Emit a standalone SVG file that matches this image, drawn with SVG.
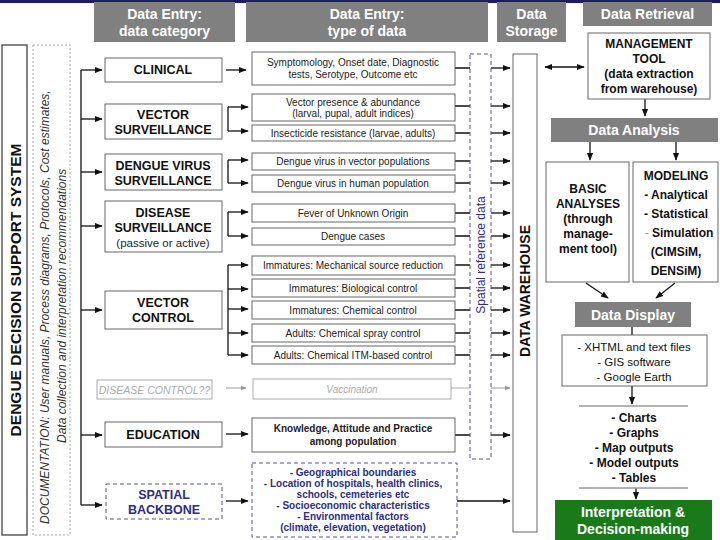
<svg xmlns="http://www.w3.org/2000/svg" width="720" height="540" viewBox="0 0 720 540">
<defs>
<marker id="ah" viewBox="0 0 10 10" refX="9" refY="5" markerWidth="6" markerHeight="6" orient="auto-start-reverse"><path d="M0,1 L10,5 L0,9 z" fill="#111"/></marker>
<marker id="ahg" viewBox="0 0 10 10" refX="9" refY="5" markerWidth="6" markerHeight="6" orient="auto"><path d="M0,1 L10,5 L0,9 z" fill="#999"/></marker>
</defs>
<style>
text{font-family:"Liberation Sans",Arial,sans-serif}
.hdr{fill:#808080}
.ht{fill:#fff;font-weight:bold;font-size:14px;text-anchor:middle}
.box{fill:#fff;stroke:#666;stroke-width:1}
.cat{font-weight:bold;font-size:12.5px;text-anchor:middle;fill:#111}
.typ{font-size:10px;text-anchor:middle;fill:#222}
.rb{font-weight:bold;font-size:12px;text-anchor:middle;fill:#111}
.ln{stroke:#111;stroke-width:1.3;fill:none}
.arr{stroke:#111;stroke-width:1.3;fill:none;marker-end:url(#ah)}
.garr{stroke:#999;stroke-width:1;fill:none;marker-end:url(#ahg)}
.blue{fill:#2e2e7a}
.dash{fill:#fff;stroke:#55558a;stroke-width:1;stroke-dasharray:4,3}
</style>
<rect x="0" y="0" width="720" height="540" fill="#fff"/>
<rect x="0" y="0" width="720" height="3" fill="#1c1c66"/>

<g id="headers">
<rect class="hdr" x="94" y="2" width="141" height="40"/>
<text class="ht" x="164.500" y="19">Data Entry:</text>
<text class="ht" x="164.500" y="36">data category</text>
<rect class="hdr" x="246" y="2" width="242" height="40"/>
<text class="ht" x="367" y="19">Data Entry:</text>
<text class="ht" x="367" y="36">type of data</text>
<rect class="hdr" x="497" y="2" width="69" height="40"/>
<text class="ht" x="531.500" y="19">Data</text>
<text class="ht" x="531.500" y="36">Storage</text>
<rect class="hdr" x="583" y="2" width="129" height="24"/>
<text class="ht" x="647.500" y="19">Data Retrieval</text>
</g>

<g id="dss">
<rect x="2" y="45" width="25" height="490" fill="#fff" stroke="#333" stroke-width="1.2"/>
<text transform="translate(21,290) rotate(-90)" font-weight="bold" font-size="15.500" text-anchor="middle" fill="#111">DENGUE DECISION SUPPORT SYSTEM</text>
</g>
<g id="documentation">
<rect x="33" y="45" width="37" height="490" fill="#fff" stroke="#aaa" stroke-width="1" stroke-dasharray="2,2"/>
<text transform="translate(49,524) rotate(-90)" font-style="italic" font-size="12" fill="#333">DOCUMENTATION:  User manuals, Process diagrams, Protocols, Cost estimates,</text>
<text transform="translate(66,443) rotate(-90)" font-style="italic" font-size="12" fill="#333">Data collection and interpretation recommendations</text>
</g>

<g id="connectors">
<path class="ln" d="M81,70 V505"/>
<path class="arr" d="M81,70 H102"/>
<path class="arr" d="M81,119 H102"/>
<path class="arr" d="M81,172 H102"/>
<path class="arr" d="M81,226 H102"/>
<path class="arr" d="M81,310 H102"/>
<path class="arr" d="M81,435 H102"/>
<path class="arr" d="M81,505 H102"/>

<path class="arr" d="M226,70 H246"/>
<path class="ln" d="M228,107 V131"/>
<path class="arr" d="M228,107 H248"/>
<path class="arr" d="M228,131 H248"/>
<path class="ln" d="M228,160 V183"/>
<path class="arr" d="M228,160 H248"/>
<path class="arr" d="M228,183 H248"/>
<path class="ln" d="M228,212 V236"/>
<path class="arr" d="M228,212 H248"/>
<path class="arr" d="M228,236 H248"/>
<path class="ln" d="M228,265 V355"/>
<path class="arr" d="M228,265 H248"/>
<path class="arr" d="M228,289 H248"/>
<path class="arr" d="M228,309 H248"/>
<path class="arr" d="M228,333 H248"/>
<path class="arr" d="M228,355 H248"/>
<path class="garr" d="M226,388 H246"/>
<path class="arr" d="M226,434 H248"/>
<path class="arr" d="M226,501 H248"/>

<path class="ln" d="M455,68 H470 M455,106 H470 M455,133 H470 M455,161 H470 M455,183 H470 M455,213 H470 M455,236 H470 M455,265 H470 M455,288 H470 M455,310 H470 M455,333 H470 M455,355 H470 M455,435 H470"/>
<path d="M451,388 H470" stroke="#aaa" stroke-width="1"/>
<path class="arr" d="M491,68 H510"/>
<path class="arr" d="M491,106 H510"/>
<path class="arr" d="M491,133 H510"/>
<path class="arr" d="M491,161 H510"/>
<path class="arr" d="M491,183 H510"/>
<path class="arr" d="M491,213 H510"/>
<path class="arr" d="M491,236 H510"/>
<path class="arr" d="M491,265 H510"/>
<path class="arr" d="M491,288 H510"/>
<path class="arr" d="M491,310 H510"/>
<path class="arr" d="M491,333 H510"/>
<path class="arr" d="M491,355 H510"/>
<path class="garr" d="M491,388 H510"/>
<path class="arr" d="M491,435 H510"/>
<path class="arr" d="M457,501 H510"/>

<path class="arr" d="M545,67 H584" marker-start="url(#ah)"/>
<path class="arr" d="M645,99 V116"/>
<path class="arr" d="M590,142 V160"/>
<path class="arr" d="M676,142 V160"/>
<path class="arr" d="M586,283 L608,298"/>
<path class="arr" d="M675,283 L656,298"/>
<path class="ln" d="M632,327 V335"/>
<path class="arr" d="M632,386 V404"/>
<path class="arr" d="M636,488 V499"/>
</g>

<g id="cat-clinical"><rect class="box" x="105" y="58" width="117" height="24"/><text class="cat" x="163" y="74">CLINICAL</text></g>
<g id="cat-vector-surv"><rect class="box" x="105" y="104" width="117" height="35"/><text class="cat" x="163" y="119">VECTOR</text><text class="cat" x="163" y="134">SURVEILLANCE</text></g>
<g id="cat-dengue-virus"><rect class="box" x="105" y="154" width="117" height="36"/><text class="cat" x="163" y="170">DENGUE VIRUS</text><text class="cat" x="163" y="185">SURVEILLANCE</text></g>
<g id="cat-disease-surv"><rect class="box" x="105" y="201" width="117" height="51"/><text class="cat" x="163" y="217">DISEASE</text><text class="cat" x="163" y="232">SURVEILLANCE</text><text x="163" y="247" font-size="11.500" text-anchor="middle" fill="#222">(passive or active)</text></g>
<g id="cat-vector-control"><rect class="box" x="105" y="291" width="117" height="38"/><text class="cat" x="163" y="307">VECTOR</text><text class="cat" x="163" y="322">CONTROL</text></g>
<g id="cat-disease-control"><rect x="97" y="380" width="115" height="19" fill="#fff" stroke="#aaa"/><text x="154.500" y="394" font-size="10.500" font-style="italic" text-anchor="middle" fill="#aaa">DISEASE CONTROL??</text></g>
<g id="cat-education"><rect class="box" x="105" y="422" width="117" height="25"/><text class="cat" x="163" y="439">EDUCATION</text></g>
<g id="cat-spatial"><rect class="dash" x="106" y="484" width="116" height="35"/><text class="cat blue" x="164" y="499">SPATIAL</text><text class="cat blue" x="164" y="514">BACKBONE</text></g>

<g id="t-symptom"><rect class="box" x="252" y="52" width="203" height="33"/><text class="typ" x="353" y="66">Symptomology, Onset date, Diagnostic</text><text class="typ" x="353" y="78">tests, Serotype, Outcome etc</text></g>
<g id="t-vecpres"><rect class="box" x="252" y="94" width="203" height="27"/><text class="typ" x="353" y="106">Vector presence &amp; abundance</text><text class="typ" x="353" y="117" font-size="9">(larval, pupal, adult indices)</text></g>
<g id="t-insect"><rect class="box" x="252" y="125" width="203" height="16"/><text class="typ" x="353" y="137">Insecticide resistance (larvae, adults)</text></g>
<g id="t-dvvec"><rect class="box" x="252" y="153" width="203" height="17"/><text class="typ" x="353" y="165">Dengue virus in vector populations</text></g>
<g id="t-dvhum"><rect class="box" x="252" y="175" width="203" height="17"/><text class="typ" x="353" y="187">Dengue virus in human population</text></g>
<g id="t-fuo"><rect class="box" x="252" y="204" width="203" height="18"/><text class="typ" x="353" y="217">Fever of Unknown Origin</text></g>
<g id="t-cases"><rect class="box" x="252" y="228" width="203" height="17"/><text class="typ" x="353" y="240">Dengue cases</text></g>
<g id="t-mech"><rect class="box" x="252" y="256" width="203" height="19"/><text class="typ" x="353" y="269">Immatures: Mechanical source reduction</text></g>
<g id="t-bio"><rect class="box" x="252" y="279" width="203" height="18"/><text class="typ" x="353" y="292">Immatures: Biological control</text></g>
<g id="t-chem"><rect class="box" x="252" y="301" width="203" height="18"/><text class="typ" x="353" y="314">Immatures: Chemical control</text></g>
<g id="t-spray"><rect class="box" x="252" y="324" width="203" height="18"/><text class="typ" x="353" y="337">Adults: Chemical spray control</text></g>
<g id="t-itm"><rect class="box" x="252" y="346" width="203" height="18"/><text class="typ" x="353" y="359">Adults: Chemical ITM-based control</text></g>
<g id="t-vacc"><rect x="253" y="379" width="198" height="20" fill="#fff" stroke="#aaa"/><text x="352" y="393" font-size="10" font-style="italic" text-anchor="middle" fill="#aaa">Vaccination</text></g>
<g id="t-kap"><rect class="box" x="252" y="418" width="203" height="34"/><text class="typ" x="353" y="432" font-size="10.500" font-weight="bold" fill="#111">Knowledge, Attitude and Practice</text><text class="typ" x="353" y="445" font-size="10.500" font-weight="bold" fill="#111">among population</text></g>
<g id="t-spatial"><rect class="dash" x="252" y="463" width="205" height="74"/>
<text class="typ blue" x="353" y="476" font-weight="bold" font-size="10.500">- Geographical boundaries</text>
<text class="typ blue" x="353" y="487" font-weight="bold" font-size="10.500">- Location of hospitals, health clinics,</text>
<text class="typ blue" x="353" y="498" font-weight="bold" font-size="10.500">schools, cemeteries etc</text>
<text class="typ blue" x="353" y="509" font-weight="bold" font-size="10.500">- Socioeconomic characteristics</text>
<text class="typ blue" x="353" y="520" font-weight="bold" font-size="10.500">- Environmental factors</text>
<text class="typ blue" x="353" y="531" font-weight="bold" font-size="10.500">(climate, elevation, vegetation)</text></g>

<g id="spatial-ref"><rect class="dash" x="470" y="54" width="21" height="405"/><text transform="translate(485,255) rotate(-90)" font-size="12" text-anchor="middle" class="blue">Spatial reference data</text></g>
<g id="warehouse"><rect x="513" y="54" width="24" height="478" fill="#fff" stroke="#666"/><text transform="translate(530,291) rotate(-90)" font-size="14" font-weight="bold" text-anchor="middle" fill="#111">DATA WAREHOUSE</text></g>

<g id="mgmt-tool"><rect class="box" x="588" y="33" width="122" height="66"/><text class="rb" x="649" y="48">MANAGEMENT</text><text class="rb" x="649" y="63">TOOL</text><text class="rb" x="649" y="78">(data extraction</text><text class="rb" x="649" y="93">from warehouse)</text></g>
<g id="data-analysis"><rect class="hdr" x="551" y="118" width="167" height="24"/><text class="ht" x="634" y="135">Data Analysis</text></g>
<g id="basic"><rect class="box" x="546" y="162" width="83" height="120"/><text class="rb" x="588" y="193">BASIC</text><text class="rb" x="588" y="208">ANALYSES</text><text class="rb" x="588" y="223">(through</text><text class="rb" x="588" y="238">manage-</text><text class="rb" x="588" y="253">ment tool)</text></g>
<g id="modeling"><rect class="box" x="633" y="162" width="85" height="120"/><text class="rb" x="676" y="180">MODELING</text><text class="rb" x="676" y="199">- Analytical</text><text class="rb" x="676" y="218">- Statistical</text><text class="rb" x="679" y="237"><tspan fill="#999" font-weight="normal">- </tspan>Simulation</text><text class="rb" x="676" y="256">(CIMSiM,</text><text class="rb" x="676" y="275">DENSiM)</text></g>
<g id="data-display"><rect class="hdr" x="575" y="302" width="116" height="25"/><text class="ht" x="633" y="320">Data Display</text></g>
<g id="formats"><rect class="box" x="562" y="335" width="145" height="51"/><text x="634" y="351" font-size="11.500" text-anchor="middle" fill="#111">- XHTML and text files</text><text x="634" y="366" font-size="11.500" text-anchor="middle" fill="#111">- GIS software</text><text x="634" y="381" font-size="11.500" text-anchor="middle" fill="#111">- Google Earth</text></g>
<g id="outputs"><rect x="579" y="406" width="109" height="82" fill="#fff" stroke="#fff"/><path d="M579,406 H688 M579,488 H688" stroke="#666"/><text class="rb" x="634" y="422">- Charts</text><text class="rb" x="634" y="437">- Graphs</text><text class="rb" x="634" y="452">-  Map outputs</text><text class="rb" x="634" y="467">- Model outputs</text><text class="rb" x="634" y="482">- Tables</text></g>
<g id="decision"><rect x="555" y="500" width="157" height="40" fill="#1a7a1a"/><text class="ht" x="633" y="517">Interpretation &amp;</text><text class="ht" x="633" y="534">Decision-making</text></g>
</svg>
